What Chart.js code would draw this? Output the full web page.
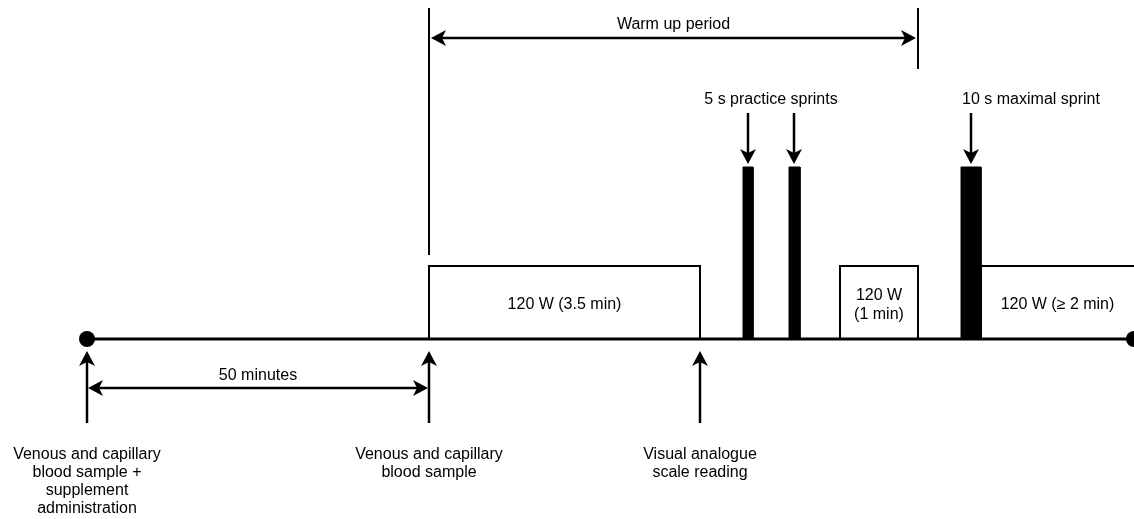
<!DOCTYPE html>
<html>
<head>
<meta charset="utf-8">
<script src="https://cdn.jsdelivr.net/npm/chart.js@4"></script>
<style>
html, body { margin: 0; padding: 0; background: #fff; }
#wrap { width: 1134px; height: 519px; }
</style>
</head>
<body>
<div id="wrap"><canvas id="myChart"></canvas></div>
<script>
// schematic positions along the protocol line (x) and heights above the baseline (y)
var lineStart = 87, lineEnd = 1134;
var eventX = [87, 429, 700];
var eventLabels = [
    ['Venous and capillary', 'blood sample +', 'supplement', 'administration'],
    ['Venous and capillary', 'blood sample'],
    ['Visual analogue', 'scale reading']
];
var boxStart = [429, 840, 981];
var boxEnd = [700, 918, 1136];
var boxLabels = [['120 W (3.5 min)'], ['120 W', '(1 min)'], ['120 W (\u2265 2 min)']];
var boxHeight = 73;
var sprintStart = [743, 789, 961];
var sprintEnd = [753, 800, 981];
var sprintHeight = 172;
var sprintArrowX = [748, 794, 971];
var sprintLabels = ['5 s practice sprints', '10 s maximal sprint'];
var sprintLabelX = [771, 1031];
var warmUp = [429, 918];
var waitPeriod = [87, 429];

var ctx = document.getElementById('myChart');
var FONT = '16px "Liberation Sans", Arial, sans-serif';

var datasets = [];
// baseline with dots at both ends
datasets.push({
    data: [{x: lineStart, y: 0}, {x: lineEnd, y: 0}],
    borderColor: '#000', borderWidth: 3,
    pointRadius: 8, pointBackgroundColor: '#000', pointBorderWidth: 0,
    fill: false
});
// 120 W blocks
for (var i = 0; i < boxStart.length; i++) {
    datasets.push({
        data: [{x: boxStart[i], y: 0}, {x: boxStart[i], y: boxHeight}, {x: boxEnd[i], y: boxHeight}, {x: boxEnd[i], y: 0}],
        borderColor: '#000', borderWidth: 2, pointRadius: 0, fill: false
    });
}
// sprints
for (var j = 0; j < sprintStart.length; j++) {
    datasets.push({
        data: [{x: sprintStart[j], y: 0}, {x: sprintStart[j], y: sprintHeight}, {x: sprintEnd[j], y: sprintHeight}, {x: sprintEnd[j], y: 0}],
        borderColor: '#000', borderWidth: 1, backgroundColor: '#000', pointRadius: 0, fill: 'origin'
    });
}

function arrowHead(c, x, y, ang) {
    c.save();
    c.translate(x, y);
    c.rotate(ang);
    c.beginPath();
    c.moveTo(0, 0);
    c.lineTo(-15, -8);
    c.lineTo(-11, 0);
    c.lineTo(-15, 8);
    c.closePath();
    c.fill();
    c.restore();
}

function arrow(c, x1, y1, x2, y2, both) {
    var a = Math.atan2(y2 - y1, x2 - x1);
    c.beginPath();
    c.moveTo(x1 + (both ? 8 * Math.cos(a) : 0), y1 + (both ? 8 * Math.sin(a) : 0));
    c.lineTo(x2 - 8 * Math.cos(a), y2 - 8 * Math.sin(a));
    c.stroke();
    arrowHead(c, x2, y2, a);
    if (both) arrowHead(c, x1, y1, a + Math.PI);
}

var annotations = {
    id: 'annotations',
    afterDatasetsDraw: function(chart) {
        var c = chart.ctx, xs = chart.scales.x, ys = chart.scales.y;
        var px = function(v) { return xs.getPixelForValue(v); };
        var py = function(v) { return ys.getPixelForValue(v); };
        c.save();
        c.strokeStyle = '#000';
        c.fillStyle = '#000';
        c.lineWidth = 2.5;
        c.font = FONT;
        c.textAlign = 'center';
        c.textBaseline = 'middle';

        // event arrows and labels below the line
        eventX.forEach(function(x, k) {
            arrow(c, px(x), py(-84), px(x), py(-12), false);
            eventLabels[k].forEach(function(t, n) {
                c.fillText(t, px(x), py(-116 - n * 18));
            });
        });
        // 50 minutes
        arrow(c, px(waitPeriod[0]) + 1, py(-49), px(waitPeriod[1]) - 1, py(-49), true);
        c.fillText('50 minutes', px((waitPeriod[0] + waitPeriod[1]) / 2), py(-37));

        // warm up period
        c.lineWidth = 2;
        c.beginPath();
        c.moveTo(px(warmUp[0]), py(331)); c.lineTo(px(warmUp[0]), py(84));
        c.moveTo(px(warmUp[1]), py(331)); c.lineTo(px(warmUp[1]), py(270));
        c.stroke();
        c.lineWidth = 2.5;
        arrow(c, px(warmUp[0]) + 2, py(301), px(warmUp[1]) - 2, py(301), true);
        c.fillText('Warm up period', px((warmUp[0] + warmUp[1]) / 2), py(314));

        // sprint arrows
        sprintArrowX.forEach(function(x) {
            arrow(c, px(x), py(226), px(x), py(175), false);
        });
        sprintLabels.forEach(function(t, k) {
            c.fillText(t, px(sprintLabelX[k]), py(239));
        });

        // block labels
        boxLabels.forEach(function(lines, k) {
            var cx = (boxStart[k] + Math.min(boxEnd[k], 1134)) / 2;
            var top = 34 + (lines.length - 1) * 9.5;
            lines.forEach(function(t, n) {
                c.fillText(t, px(cx), py(top - n * 19));
            });
        });
        c.restore();
    }
};

var myChart = new Chart(ctx, {
    type: 'line',
    data: { datasets: datasets },
    options: {
        responsive: true,
        maintainAspectRatio: false,
        animation: false,
        layout: { padding: 0, autoPadding: false },
        plugins: { legend: { display: false }, tooltip: { enabled: false } },
        scales: {
            x: { type: 'linear', min: 0, max: 1134, display: false },
            y: { type: 'linear', min: -180, max: 339, display: false }
        }
    },
    plugins: [annotations]
});
</script>
</body>
</html>
